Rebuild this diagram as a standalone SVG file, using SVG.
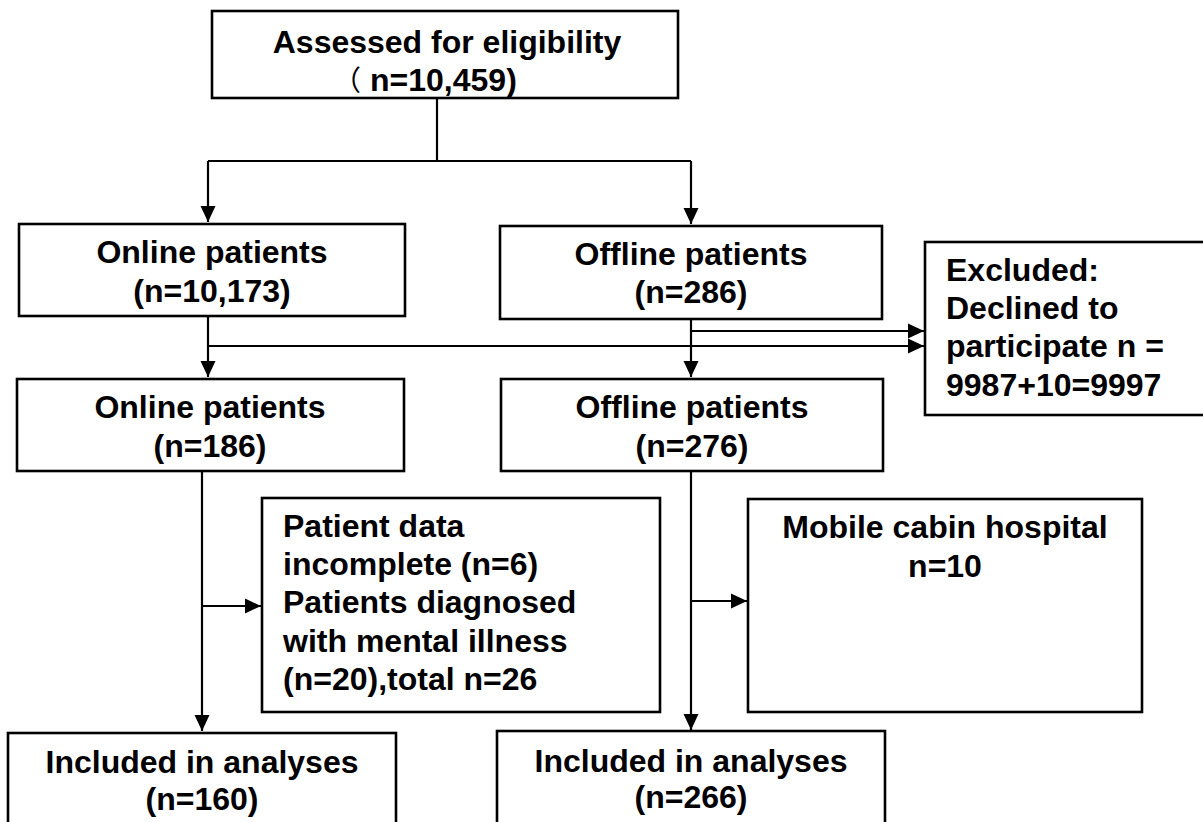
<svg xmlns="http://www.w3.org/2000/svg" width="1203" height="822" viewBox="0 0 1203 822">
<style>
.box{fill:#fff;stroke:#000;stroke-width:2.6}
.t{font-family:"Liberation Sans",Arial,"Noto Sans CJK SC",sans-serif;font-weight:bold;font-size:32px;fill:#000}
.c{text-anchor:middle}
.cjk{font-family:"Noto Sans CJK SC","Noto Sans CJK JP",sans-serif;font-weight:normal;font-size:28px}
.ln{fill:none;stroke:#000;stroke-width:2.2}
</style>
<defs>
<marker id="ah" markerUnits="userSpaceOnUse" markerWidth="17" markerHeight="16" refX="16" refY="8" orient="auto">
<path d="M0,0.5 L16,8 L0,15.5 z" fill="#000"/>
</marker>
</defs>
<rect width="1203" height="822" fill="#fff"/>
<g id="connectors">
<path class="ln" d="M437,98 V161"/>
<path class="ln" d="M208,161 H691"/>
<path class="ln" d="M208,161 V222" marker-end="url(#ah)"/>
<path class="ln" d="M691,161 V224" marker-end="url(#ah)"/>
<path class="ln" d="M208,316 V377" marker-end="url(#ah)"/>
<path class="ln" d="M208,346 H924" marker-end="url(#ah)"/>
<path class="ln" d="M691,319 V377" marker-end="url(#ah)"/>
<path class="ln" d="M691,331 H924" marker-end="url(#ah)"/>
<path class="ln" d="M202,471 V731" marker-end="url(#ah)"/>
<path class="ln" d="M202,606 H261" marker-end="url(#ah)"/>
<path class="ln" d="M691,471 V730" marker-end="url(#ah)"/>
<path class="ln" d="M691,601 H747" marker-end="url(#ah)"/>
</g>
<g id="assessed">
<rect class="box" x="212" y="11" width="466" height="87"/>
<text class="t c" x="447" y="53">Assessed for eligibility</text>
<text class="t" x="333" y="91"><tspan class="cjk">（</tspan><tspan dx="9">n=10,459)</tspan></text>
</g>
<g id="online1">
<rect class="box" x="19" y="224" width="386" height="92"/>
<text class="t c" x="212" y="263">Online patients</text>
<text class="t c" x="212" y="302">(n=10,173)</text>
</g>
<g id="offline1">
<rect class="box" x="500" y="226" width="382" height="93"/>
<text class="t c" x="691" y="265">Offline patients</text>
<text class="t c" x="691" y="303">(n=286)</text>
</g>
<g id="excluded">
<rect class="box" x="925" y="242" width="290" height="173"/>
<text class="t" x="946" y="281">Excluded:</text>
<text class="t" x="946" y="319">Declined to</text>
<text class="t" x="946" y="357">participate n =</text>
<text class="t" x="946" y="396">9987+10=9997</text>
</g>
<g id="online2">
<rect class="box" x="17" y="379" width="387" height="92"/>
<text class="t c" x="210" y="418">Online patients</text>
<text class="t c" x="210" y="457">(n=186)</text>
</g>
<g id="offline2">
<rect class="box" x="501" y="379" width="382" height="92"/>
<text class="t c" x="692" y="418">Offline patients</text>
<text class="t c" x="692" y="457">(n=276)</text>
</g>
<g id="excl-online">
<rect class="box" x="262" y="498" width="398" height="214"/>
<text class="t" x="283" y="537">Patient data</text>
<text class="t" x="283" y="575">incomplete (n=6)</text>
<text class="t" x="283" y="613">Patients diagnosed</text>
<text class="t" x="283" y="652">with mental illness</text>
<text class="t" x="283" y="690">(n=20),total n=26</text>
</g>
<g id="excl-offline">
<rect class="box" x="748" y="499" width="394" height="213"/>
<text class="t c" x="945" y="538">Mobile cabin hospital</text>
<text class="t c" x="945" y="577">n=10</text>
</g>
<g id="included1">
<rect class="box" x="8" y="733" width="388" height="100"/>
<text class="t c" x="202" y="773">Included in analyses</text>
<text class="t c" x="202" y="810">(n=160)</text>
</g>
<g id="included2">
<rect class="box" x="497" y="731" width="388" height="100"/>
<text class="t c" x="691" y="772">Included in analyses</text>
<text class="t c" x="691" y="808">(n=266)</text>
</g>
</svg>
